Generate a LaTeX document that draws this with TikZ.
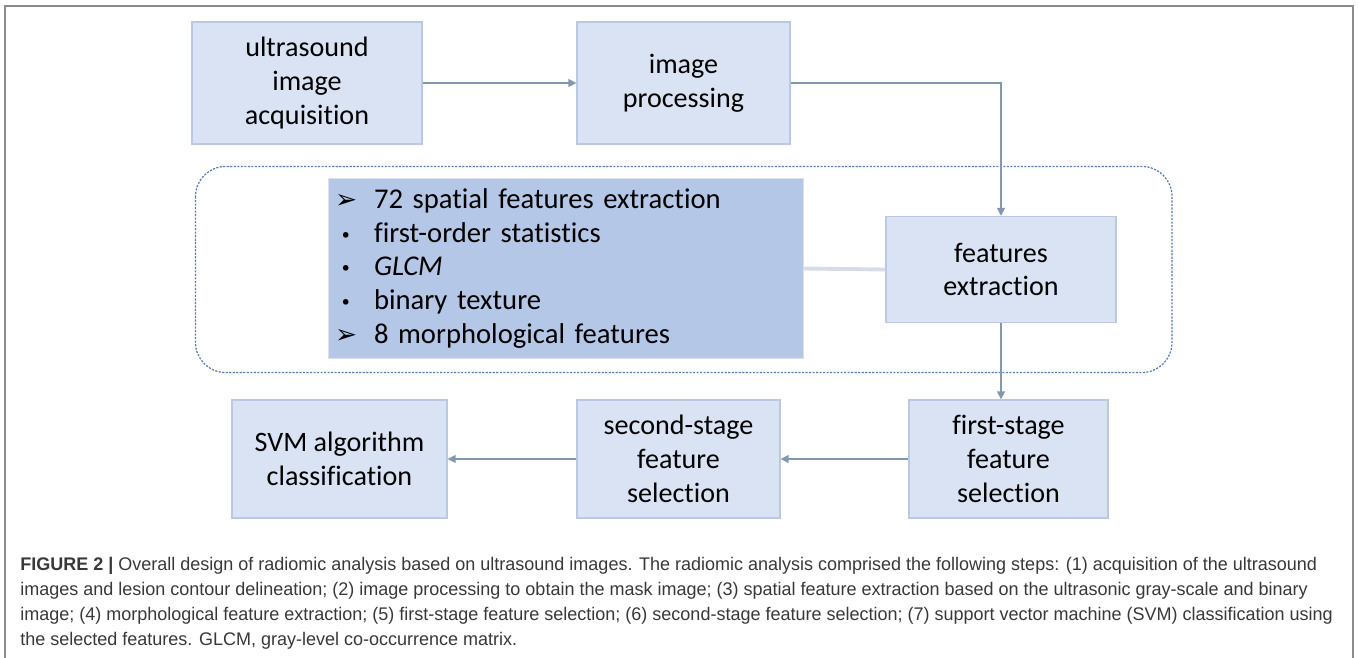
\documentclass[tikz,border=0pt]{standalone}
\usepackage{fontspec}
\setmainfont{Liberation Sans}
\newfontfamily\boxfont[Ligatures=NoCommon]{Carlito}
\newfontfamily\symfont{DejaVu Sans}
\newfontfamily\capfont[FakeStretch=0.985]{Liberation Sans}
\usetikzlibrary{arrows.meta, positioning}

\definecolor{boxfill}{HTML}{DAE3F3}
\definecolor{boxline}{HTML}{B9C9E4}
\definecolor{listfill}{HTML}{B4C7E7}
\definecolor{flowline}{HTML}{8497B0}
\definecolor{groupline}{HTML}{5A7AB5}
\definecolor{linkline}{HTML}{D5DCE6}
\definecolor{framegray}{HTML}{8C8C8C}
\definecolor{captext}{HTML}{383838}

\newcommand{\itemarrow}{\makebox[0.74cm][l]{\hspace{-0.04cm}\symfont\fontsize{15}{15}\selectfont ➢}}
\newcommand{\itemdot}{\makebox[0.74cm][l]{\hspace{0.06cm}\symfont\fontsize{11}{11}\selectfont •}}

\tikzset{
    stepbox/.style={draw=boxline, line width=0.8pt, fill=boxfill, align=center,
        font=\boxfont\fontsize{16}{19.3}\selectfont, inner sep=0pt},
    flow/.style={draw=flowline, line width=0.8pt, -{Triangle[width=4.5pt, length=4.5pt]}}
}

\begin{document}
\begin{tikzpicture}[x=0.02cm, y=-0.02cm]
    \useasboundingbox (0, 0) rectangle (1358, 658);

    % Outer frame (open at the bottom)
    \draw[framegray, line width=1.1pt] (5, 658) -- (5, 6) -- (1353, 6) -- (1353, 658);

    % Top row
    \node[stepbox, minimum width=4.6cm, minimum height=2.44cm] (acq) at (307, 83)
        {ultrasound\\image\\acquisition};
    \node[stepbox, minimum width=4.26cm, minimum height=2.44cm] (proc) at (683.5, 83)
        {image\\processing};

    % Feature extraction group
    \draw[groupline, line width=0.7pt, dash pattern=on 1.2pt off 0.8pt, rounded corners=0.6cm]
        (195.5, 166.5) rectangle (1172, 372.5);
    \node[fill=listfill, draw=listfill!90!black!40, line width=0.4pt, minimum width=9.5cm,
        minimum height=3.6cm, text width=9.14cm, inner xsep=0.18cm, align=left,
        font=\boxfont\fontsize{16.3}{19.3}\selectfont] (list) at (565.5, 268.5)
        {\itemarrow 72 spatial features extraction\\
         \itemdot first-order statistics\\
         \itemdot \textit{GLCM}\\
         \itemdot binary texture\\
         \itemarrow 8 morphological features};
    \node[stepbox, minimum width=4.6cm, minimum height=2.12cm] (feat) at (1001, 269.5)
        {features\\extraction};

    % Bottom row
    \node[stepbox, minimum width=3.98cm, minimum height=2.36cm] (first) at (1008.5, 459)
        {first-stage\\feature\\selection};
    \node[stepbox, minimum width=4.06cm, minimum height=2.36cm] (second) at (678.5, 459)
        {second-stage\\feature\\selection};
    \node[stepbox, minimum width=4.3cm, minimum height=2.36cm] (svm) at (339.5, 459)
        {SVM algorithm\\classification};

    % Connectors
    \draw[flow] (acq) -- (proc);
    \draw[flow] (proc.east) -| (feat.north);
    \draw[linkline, line width=2.2pt] (list.east) -- (feat.west);
    \draw[flow] (feat.south) -- (feat.south |- first.north);
    \draw[flow] (first) -- (second);
    \draw[flow] (second) -- (svm);

    % Caption
    \node[anchor=north west, align=left, inner sep=0pt, text=captext,
        font=\capfont\fontsize{10.4}{14.2}\selectfont] (caption) at (20, 557)
        {\textbf{FIGURE 2 |} Overall design of radiomic analysis based on ultrasound images. The radiomic analysis comprised the following steps: (1) acquisition of the ultrasound\\
         images and lesion contour delineation; (2) image processing to obtain the mask image; (3) spatial feature extraction based on the ultrasonic gray-scale and binary\\
         image; (4) morphological feature extraction; (5) first-stage feature selection; (6) second-stage feature selection; (7) support vector machine (SVM) classification using\\
         the selected features. GLCM, gray-level co-occurrence matrix.};
\end{tikzpicture}
\end{document}
